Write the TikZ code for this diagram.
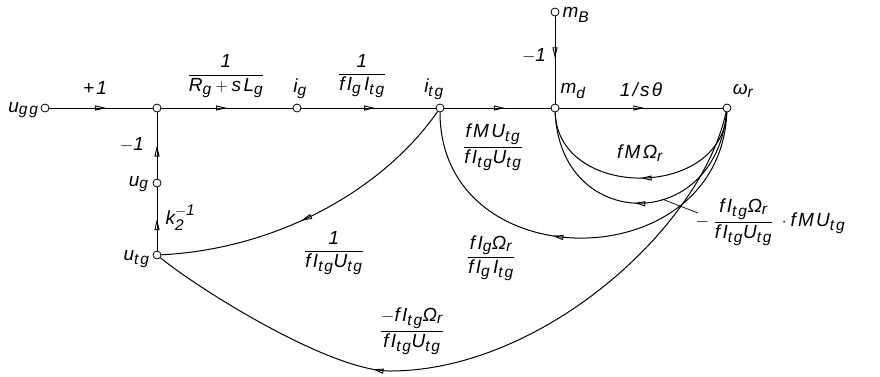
\documentclass[tikz,border=0pt]{standalone}
\usepackage{amsmath}
\usepackage{fontspec}
\setmainfont[LetterSpace=12]{Liberation Sans}
\DeclareMathSizes{19}{19}{15.5}{12}
\usetikzlibrary{arrows.meta,decorations.markings}
\newcommand{\tx}[1]{\text{\itshape #1}}
\begin{document}
\begin{tikzpicture}[x=1pt,y=-1pt,line width=1pt,
  font=\fontsize{19}{22}\selectfont,
  vtx/.style={circle,draw,fill=white,inner sep=0pt,minimum size=8pt,line width=0.8pt},
  lbl/.style={inner sep=1pt},
  flow/.style={decoration={markings,mark=at position #1 with {\arrow{Triangle[open,length=11pt,width=5pt,line width=0.9pt]}}},postaction={decorate}},
  flow/.default=0.55]
\useasboundingbox (0,0) rectangle (880,376);
% vertices
\node[vtx] (ugg) at (45,108) {};
\node[vtx] (n1) at (157,108) {};
\node[vtx] (ig) at (297,108) {};
\node[vtx] (itg) at (440,108) {};
\node[vtx] (md) at (555,108) {};
\node[vtx] (wr) at (727,108) {};
\node[vtx] (mB) at (555,12) {};
\node[vtx] (ug) at (157,183) {};
\node[vtx] (utg) at (157,255) {};
\coordinate (bot) at (390,371);
\coordinate (la) at (662,199);
\coordinate (lb) at (698,213);
% straight branches
\draw[flow=0.55] (ugg) -- (n1);
\draw[flow=0.5] (n1) -- (ig);
\draw[flow=0.55] (ig) -- (itg);
\draw[flow=0.57] (itg) -- (md);
\draw[flow=0.52] (md) -- (wr);
\draw[flow=0.48] (mB) -- (md);
\draw[flow=0.5] (ug) -- (n1);
\draw[flow=0.5] (utg) -- (ug);
% curved branches
\draw[flow=0.55] (itg) .. controls (383,190) and (277,249) .. (utg);
\draw[flow=0.57] (wr) .. controls (720,280) and (440,280) .. (itg);
\draw[flow=0.5] (wr) .. controls (722,200) and (558,200) .. (md);
\draw[flow=0.52] (wr) .. controls (715,235) and (560,232) .. (md);
\draw[flow=0.66] (wr) .. controls (700,230) and (540,371) .. (bot) .. controls (330,371) and (200,290) .. (utg);
\draw[line width=0.7pt] (la) -- (lb);
% labels
\node[lbl,anchor=east] (lugg) at (40,110) {$\tx{u}_{\tx{gg}}$};
\node[lbl] (lp1) at (95,88) {\itshape +1};
\node[lbl] (lrg) at (226,76) {$\dfrac{\tx{1}}{\tx{R}_{\tx{g}}+\tx{sL}_{\tx{g}}}$};
\node[lbl] (lig) at (300,89) {$\tx{i}_{\tx{g}}$};
\node[lbl] (lfig) at (362,76) {$\dfrac{\tx{1}}{\tx{fI}_{\tx{g}}\,\tx{I}_{\tx{tg}}}$};
\node[lbl] (litg) at (434,89) {$\tx{i}_{\tx{tg}}$};
\node[lbl] (lmd) at (573,91) {$\tx{m}_{\tx{d}}$};
\node[lbl] (lst) at (641,90) {\itshape 1/sθ};
\node[lbl] (lwr) at (743,91) {$\tx{ω}_{\tx{r}}$};
\node[lbl,anchor=west] (lmB) at (561,15) {$\tx{m}_{\tx{B}}$};
\node[lbl] (lm1a) at (534,56) {$-\tx{1}$};
\node[lbl] (lm1b) at (132,145) {$-\tx{1}$};
\node[lbl,anchor=east] (lug) at (150,184) {$\tx{u}_{\tx{g}}$};
\node[lbl,anchor=west] (lk2) at (164,218) {$\tx{k}_{\tx{2}}^{-\tx{1}}$};
\node[lbl,anchor=east] (lutg) at (151,259) {$\tx{u}_{\tx{tg}}$};
\node[lbl] (lfmu) at (493,147) {$\dfrac{\tx{fMU}_{\tx{tg}}}{\tx{fI}_{\tx{tg}}\tx{U}_{\tx{tg}}}$};
\node[lbl] (lfmo) at (640,153) {$\tx{fMΩ}_{\tx{r}}$};
\node[lbl] (lfigo) at (491,258) {$\dfrac{\tx{fI}_{\tx{g}}\tx{Ω}_{\tx{r}}}{\tx{fI}_{\tx{g}}\,\tx{I}_{\tx{tg}}}$};
\node[lbl] (lone) at (334,253) {$\dfrac{\tx{1}}{\tx{fI}_{\tx{tg}}\tx{U}_{\tx{tg}}}$};
\node[lbl,anchor=west] (lprod) at (694,222) {$-\;\dfrac{\tx{fI}_{\tx{tg}}\tx{Ω}_{\tx{r}}}{\tx{fI}_{\tx{tg}}\tx{U}_{\tx{tg}}}\;\cdot\tx{fMU}_{\tx{tg}}$};
\node[lbl] (lneg) at (412,331) {$\dfrac{-\tx{fI}_{\tx{tg}}\tx{Ω}_{\tx{r}}}{\tx{fI}_{\tx{tg}}\tx{U}_{\tx{tg}}}$};
\end{tikzpicture}
\end{document}
